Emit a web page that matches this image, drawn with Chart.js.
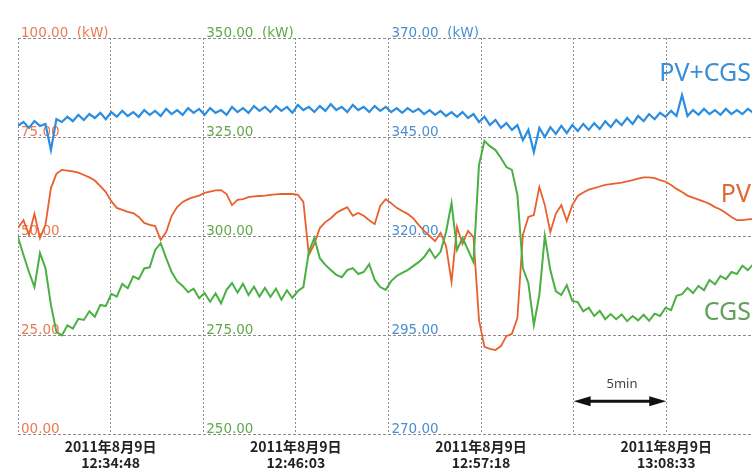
<!DOCTYPE html>
<html>
<head>
<meta charset="utf-8">
<script src="https://cdn.jsdelivr.net/npm/chart.js@4.4.1/dist/chart.umd.min.js"></script>
<style>
  html, body { margin: 0; padding: 0; background: #fff; overflow: hidden; }
  #wrap { width: 752px; height: 470px; }
</style>
</head>
<body>
<div id="wrap"><canvas id="powerChart"></canvas></div>
<script>
// seconds after 12:29:10.5, one sample every 20 s
const seconds = [
  0,20,40,60,80,100,120,140,160,180,
  200,220,240,260,280,300,320,340,360,380,
  400,420,440,460,480,500,520,540,560,580,
  600,620,640,660,680,700,720,740,760,780,
  800,820,840,860,880,900,920,940,960,980,
  1000,1020,1040,1060,1080,1100,1120,1140,1160,1180,
  1200,1220,1240,1260,1280,1300,1320,1340,1360,1380,
  1400,1420,1440,1460,1480,1500,1520,1540,1560,1580,
  1600,1620,1640,1660,1680,1700,1720,1740,1760,1780,
  1800,1820,1840,1860,1880,1900,1920,1940,1960,1980,
  2000,2020,2040,2060,2080,2100,2120,2140,2160,2180,
  2200,2220,2240,2260,2280,2300,2320,2340,2360,2380,
  2400,2420,2440,2460,2480,2500,2520,2540,2560,2580,
  2600,2620,2640,2660,2680
];

// PV output (kW)
const pv = [
  52.0,54.0,50.3,55.6,49.5,52.8,62.1,65.7,66.7,66.5,
  66.3,66.0,65.4,64.8,64.0,62.6,61.1,58.8,57.1,56.6,
  56.1,55.8,54.8,53.3,52.8,52.5,49.0,51.0,55.1,57.3,
  58.6,59.3,59.8,60.2,60.9,61.2,61.5,61.6,60.6,57.8,
  59.1,59.3,59.8,60.0,60.1,60.2,60.4,60.5,60.6,60.6,
  60.6,60.4,58.6,45.2,48.0,52.0,53.5,54.5,55.8,56.6,
  57.3,55.1,55.8,55.1,54.0,53.0,57.6,59.3,58.3,57.1,
  56.3,55.6,54.5,52.8,51.3,50.0,48.7,50.8,47.5,38.4,
  52.3,48.0,51.3,49.7,28.8,22.0,21.5,21.2,22.2,24.7,
  25.3,29.3,50.3,54.8,55.3,62.4,57.8,51.0,55.6,57.8,
  53.8,57.8,60.1,61.0,61.7,62.1,62.5,62.9,63.1,63.3,
  63.5,63.8,64.1,64.5,64.8,64.8,64.6,64.1,63.7,62.9,
  61.9,61.1,60.2,59.7,59.2,58.7,58.1,57.3,56.7,55.8,
  54.8,54.0,54.0,54.2,54.3
];

// CGS output (kW)
const cgs = [
  299.7,295.2,290.9,287.1,295.7,291.9,282.6,275.8,274.9,277.4,
  276.6,279.1,278.8,281.0,279.6,282.6,282.3,285.4,284.7,287.9,
  286.8,289.8,289.1,291.8,292.1,296.5,298.2,294.4,290.9,288.6,
  287.4,285.8,286.7,284.3,285.6,283.4,285.5,283.0,286.4,288.1,
  285.7,287.9,285.1,287.2,284.7,286.9,284.6,286.7,283.9,286.3,
  284.4,286.1,287.1,296.0,299.5,294.4,292.7,291.4,290.2,289.6,
  291.4,291.9,290.4,290.9,292.9,288.9,287.1,286.4,288.6,289.9,
  290.7,291.4,292.4,293.4,294.7,296.7,294.4,296.0,301.0,308.3,
  296.5,299.5,296.5,293.4,317.9,324.0,322.7,321.7,319.7,317.4,
  316.7,310.4,291.9,288.1,277.5,285.1,300.0,291.4,286.1,285.1,
  287.6,283.6,283.3,281.0,281.9,279.8,281.1,279.0,280.3,279.0,
  280.2,278.5,279.8,278.7,280.1,278.6,280.4,279.8,281.9,281.3,
  284.9,285.3,286.9,285.6,287.4,286.3,288.9,287.8,289.9,289.1,
  290.9,290.4,292.5,291.4,292.9
];

// PV+CGS total (kW)
const pvcgs = [
  347.8,348.8,347.3,349.0,347.8,348.3,341.7,349.5,348.8,350.1,
  349.0,350.6,349.3,350.8,349.8,351.1,349.5,351.3,350.1,351.6,
  350.3,351.3,350.1,351.8,350.6,351.6,350.3,352.1,350.8,351.8,
  350.6,352.3,351.1,352.1,350.6,352.3,351.1,351.8,350.6,352.6,
  351.3,352.3,351.1,352.8,351.6,352.6,351.3,352.8,351.6,352.6,
  351.1,353.1,351.8,352.6,351.3,352.8,351.6,353.3,351.8,352.6,
  351.3,353.1,351.8,352.6,351.3,352.8,351.6,352.6,351.3,352.3,
  351.1,352.3,351.3,352.1,350.8,351.8,350.6,351.6,350.3,351.3,
  350.1,351.3,349.8,350.8,348.8,350.1,348.0,349.3,347.3,348.5,
  346.8,348.0,344.2,346.8,341.2,347.3,345.0,347.5,345.8,347.8,
  346.0,348.0,346.5,348.3,346.8,348.5,347.0,349.0,347.5,349.3,
  348.0,349.8,348.3,350.3,349.0,350.8,349.5,351.1,350.1,351.6,
  350.3,355.6,350.3,351.8,350.6,352.1,350.8,351.8,350.6,352.1,
  350.8,351.8,350.8,352.1,351.1
];

const seriesNames = ['PV+CGS', 'PV', 'CGS'];

// vertical grid lines every 5 min 37.5 s
const gridSeconds = [0, 337.5, 675, 1012.5, 1350, 1687.5, 2025, 2362.5];
const dateLabel = '2011年8月9日';
const timeTickValues = [337.5, 1012.5, 1687.5, 2362.5];
const timeLabels = ['12:34:48', '12:46:03', '12:57:18', '13:08:33'];

const pvTicks = [0, 25, 50, 75, 100];
const pvTickLabels = ['00.00', '25.00', '50.00', '75.00', '100.00  (kW)'];
const cgsTicks = [250, 275, 300, 325, 350];
const cgsTickLabels = ['250.00', '275.00', '300.00', '325.00', '350.00  (kW)'];
const sumTicks = [270, 295, 320, 345, 370];
const sumTickLabels = ['270.00', '295.00', '320.00', '345.00', '370.00  (kW)'];

const scaleText = '5min';

const BLUE = '#2b8ddf';
const ORANGE = '#e9602e';
const GREEN = '#4bb043';
const GRID = '#8c8c8c';

function points(ys) {
  return seconds.map((s, i) => ({ x: s, y: ys[i] }));
}

// value labels drawn inside the plot, next to a vertical grid line
const axisText = {
  id: 'axisText',
  beforeDatasetsDraw(chart) {
    const { ctx, scales } = chart;
    const sets = [
      { id: 'yPV', at: 0, ticks: pvTicks, labels: pvTickLabels, color: '#ea7a50' },
      { id: 'yCGS', at: 675, ticks: cgsTicks, labels: cgsTickLabels, color: '#62a84a' },
      { id: 'ySum', at: 1350, ticks: sumTicks, labels: sumTickLabels, color: '#4a8ed2' }
    ];
    ctx.save();
    ctx.font = '13.5px "DejaVu Sans"';
    ctx.textAlign = 'left';
    ctx.textBaseline = 'alphabetic';
    sets.forEach(set => {
      const sc = scales[set.id];
      const x = scales.x.getPixelForValue(set.at) + 3;
      ctx.fillStyle = set.color;
      set.ticks.forEach((v, i) => {
        ctx.fillText(set.labels[i], x, sc.getPixelForValue(v) - 1);
      });
    });
    ctx.restore();
  },
  afterDatasetsDraw(chart) {
    const { ctx, scales, chartArea } = chart;
    ctx.save();
    // series names at the right edge
    ctx.font = '25px "Noto Sans"';
    ctx.textAlign = 'right';
    ctx.textBaseline = 'middle';
    const right = chartArea.right - 1;
    ctx.fillStyle = '#3a8ed6';
    ctx.fillText(seriesNames[0], right, scales.ySum.getPixelForValue(361));
    ctx.fillStyle = '#e0672f';
    ctx.fillText(seriesNames[1], right, scales.yPV.getPixelForValue(60.5));
    ctx.fillStyle = '#62a05a';
    ctx.fillText(seriesNames[2], right, scales.yCGS.getPixelForValue(280.7));

    // 5 minute scale arrow
    const x0 = scales.x.getPixelForValue(2025);
    const x1 = scales.x.getPixelForValue(2362.5);
    const ya = scales.yPV.getPixelForValue(8.3);
    ctx.strokeStyle = '#111';
    ctx.fillStyle = '#111';
    ctx.lineWidth = 3;
    ctx.beginPath();
    ctx.moveTo(x0 + 10, ya);
    ctx.lineTo(x1 - 10, ya);
    ctx.stroke();
    [[x0, 1], [x1, -1]].forEach(([x, d]) => {
      ctx.beginPath();
      ctx.moveTo(x, ya);
      ctx.lineTo(x + d * 17, ya - 5);
      ctx.lineTo(x + d * 17, ya + 5);
      ctx.closePath();
      ctx.fill();
    });
    ctx.font = '13px "Noto Sans"';
    ctx.textAlign = 'center';
    ctx.fillStyle = '#444';
    ctx.fillText(scaleText, (x0 + x1) / 2 + 2, scales.yPV.getPixelForValue(12.6));
    ctx.restore();
  }
};

const ctx = document.getElementById('powerChart').getContext('2d');
const powerChart = new Chart(ctx, {
  type: 'line',
  data: {
    datasets: [
      { label: 'CGS', data: points(cgs), yAxisID: 'yCGS', borderColor: GREEN, borderWidth: 2 },
      { label: 'PV', data: points(pv), yAxisID: 'yPV', borderColor: ORANGE, borderWidth: 1.8 },
      { label: 'PV+CGS', data: points(pvcgs), yAxisID: 'ySum', borderColor: BLUE, borderWidth: 2.2 }
    ]
  },
  options: {
    responsive: true,
    maintainAspectRatio: false,
    animation: false,
    layout: { padding: { left: 18, top: 38, right: 0, bottom: 0 } },
    elements: { point: { radius: 0 }, line: { tension: 0 } },
    plugins: { legend: { display: false }, tooltip: { enabled: false } },
    scales: {
      x: {
        type: 'linear',
        min: 0,
        max: 2675,
        afterBuildTicks: s => { s.ticks = gridSeconds.map(value => ({ value })); },
        afterFit: s => { s.height = 36; s.paddingRight = 0; s.paddingLeft = 0; },
        border: { display: false, dash: [2, 2] },
        grid: { color: GRID, drawTicks: false },
        ticks: {
          autoSkip: false,
          maxRotation: 0,
          padding: 5,
          color: '#222',
          font: { family: '"Noto Sans CJK JP"', size: 14, weight: 'bold', lineHeight: '16px' },
          callback: v => {
            const i = timeTickValues.findIndex(t => Math.abs(t - v) < 0.5);
            return i < 0 ? '' : [dateLabel, timeLabels[i]];
          }
        }
      },
      yPV: {
        position: 'left',
        min: 0,
        max: 100,
        border: { display: false, dash: [3, 2] },
        grid: { color: GRID, drawTicks: false },
        ticks: { stepSize: 25, display: false }
      },
      yCGS: { display: false, min: 250, max: 350 },
      ySum: { display: false, min: 270, max: 370 }
    }
  },
  plugins: [axisText]
});
</script>
</body>
</html>
